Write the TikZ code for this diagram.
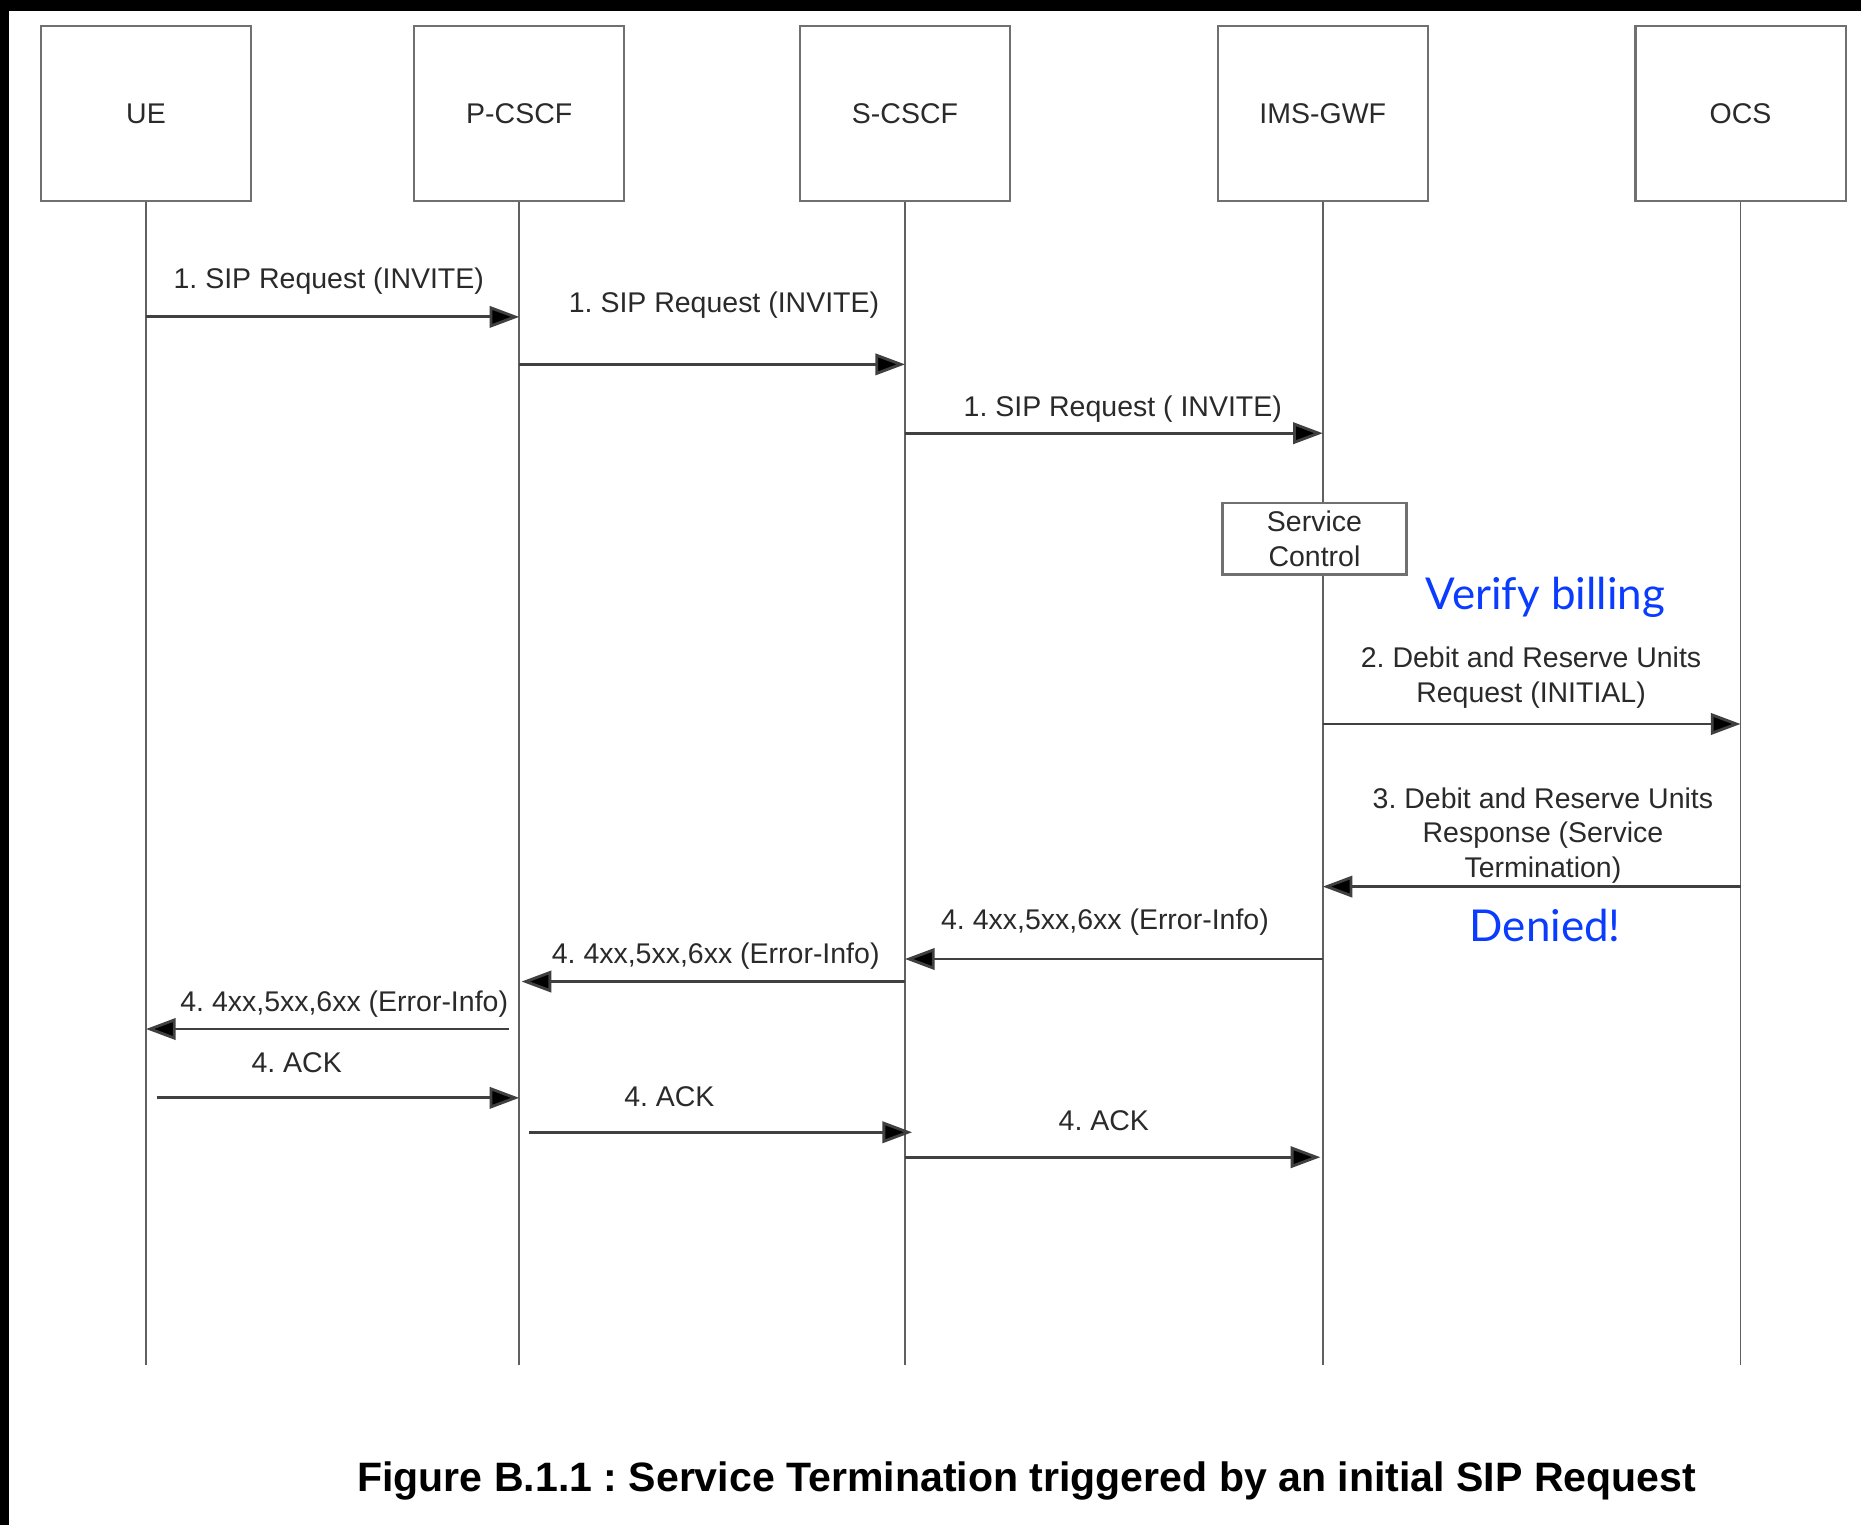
\documentclass[tikz,border=0pt]{standalone}
\usepackage{fontspec}
\setmainfont{Liberation Sans}
\newfontfamily\gillfont{Lato}
\usetikzlibrary{arrows.meta}
\frenchspacing
\definecolor{boxgray}{HTML}{707070}
\definecolor{linegray}{HTML}{606060}
\definecolor{msggray}{HTML}{404040}
\definecolor{txtgray}{HTML}{2A2A2A}
\definecolor{noteblue}{HTML}{0A3CFF}
\tikzset{
  lifebox/.style={draw=boxgray, line width=0.9pt, minimum width=88.5pt, minimum height=73.5pt, inner sep=0pt, font=\fontsize{12}{14.5}\selectfont, text=txtgray},
  lifeline/.style={draw=linegray, line width=0.7pt},
  msg/.style={draw=msggray, line width=1.2pt, -{Triangle[length=12.5pt,width=9pt,fill=black]}},
  lbl/.style={font=\fontsize{12}{14.5}\selectfont, text=txtgray, align=center, inner sep=0pt},
  ctrlbox/.style={draw=boxgray, fill=white, line width=0.9pt, minimum width=77.5pt, minimum height=30pt, inner sep=0pt, font=\fontsize{12}{14.5}\selectfont, text=txtgray, align=center},
  note/.style={font=\gillfont\fontsize{18.5}{22}\selectfont, text=noteblue, inner sep=0pt},
  caption/.style={font=\bfseries\fontsize{17.3}{20}\selectfont, text=black, inner sep=0pt}
}
\begin{document}
\begin{tikzpicture}[x=0.5pt,y=-0.5pt]
\useasboundingbox (0,0) rectangle (1568,1285);
\fill[white] (0,0) rectangle (1568,1285);
\fill[black] (0,0) rectangle (1568,9);
\fill[black] (0,0) rectangle (8,1285);

% lifeline heads
\node[lifebox] (ue) at (123,95.5) {UE};
\node[lifebox] (pc) at (437.5,95.5) {P-CSCF};
\node[lifebox] (sc) at (762.5,95.5) {S-CSCF};
\node[lifebox] (gw) at (1114.5,95.5) {IMS-GWF};
\node[lifebox] (ocs) at (1466.5,95.5) {OCS};

% lifeline ends
\coordinate (yend) at (0,1150);
\coordinate (ueE) at (ue.south |- yend);
\coordinate (pcE) at (pc.south |- yend);
\coordinate (scE) at (sc.south |- yend);
\coordinate (gwE) at (gw.south |- yend);
\coordinate (ocsE) at (ocs.south |- yend);
\draw[lifeline] (ue.south) -- (ueE);
\draw[lifeline] (pc.south) -- (pcE);
\draw[lifeline] (sc.south) -- (scE);
\draw[lifeline] (gw.south) -- (gwE);
\draw[lifeline] (ocs.south) -- (ocsE);

% message rows
\coordinate (y1) at (0,267);
\coordinate (y2) at (0,307);
\coordinate (y3) at (0,365);
\coordinate (y4) at (0,610);
\coordinate (y5) at (0,747);
\coordinate (y6) at (0,808);
\coordinate (y7) at (0,827);
\coordinate (y8) at (0,867);
\coordinate (y9) at (0,925);
\coordinate (y10) at (0,954);
\coordinate (y11) at (0,975);

\draw[msg] (ue |- y1) -- (pc |- y1);
\node[lbl] (l1) at (277,237) {1. SIP Request (INVITE)};
\draw[msg] (pc |- y2) -- (sc |- y2);
\node[lbl] (l2) at (610,257) {1. SIP Request (INVITE)};
\draw[msg] (sc |- y3) -- (gw |- y3);
\node[lbl] (l3) at (946,345) {1. SIP Request ( INVITE)};

\node[ctrlbox] (ctrl) at (1107.5,454) {Service\\Control};
\node[note] (verify) at (1302,503) {Verify billing};

\draw[msg] (gw |- y4) -- (ocs |- y4);
\node[lbl] (l4) at (1290,571) {2. Debit and Reserve Units\\Request (INITIAL)};
\draw[msg] (ocs |- y5) -- (gw |- y5);
\node[lbl] (l5) at (1300,704) {3. Debit and Reserve Units\\Response (Service\\Termination)};
\node[note] (denied) at (1302,780) {Denied!};

\draw[msg] (gw |- y6) -- (sc |- y6);
\node[lbl] (l6) at (931,777) {4. 4xx,5xx,6xx (Error-Info)};
\draw[msg] (sc |- y7) -- ([xshift=1pt]pc |- y7);
\node[lbl] (l7) at (603,806) {4. 4xx,5xx,6xx (Error-Info)};
\draw[msg] ([xshift=-4.5pt]pc |- y8) -- (ue |- y8);
\node[lbl] (l8) at (290,846) {4. 4xx,5xx,6xx (Error-Info)};

\draw[msg] ([xshift=4.5pt]ue |- y9) -- (pc |- y9);
\node[lbl] (l9) at (250,895) {4. ACK};
\draw[msg] ([xshift=4pt]pc |- y10) -- ([xshift=3pt]sc |- y10);
\node[lbl] (l10) at (564,924) {4. ACK};
\draw[msg] (sc |- y11) -- ([xshift=-1pt]gw |- y11);
\node[lbl] (l11) at (930,944) {4. ACK};

\node[caption] (cap) at (865,1248) {Figure B.1.1 : Service Termination triggered by an initial SIP Request};
\end{tikzpicture}
\end{document}
